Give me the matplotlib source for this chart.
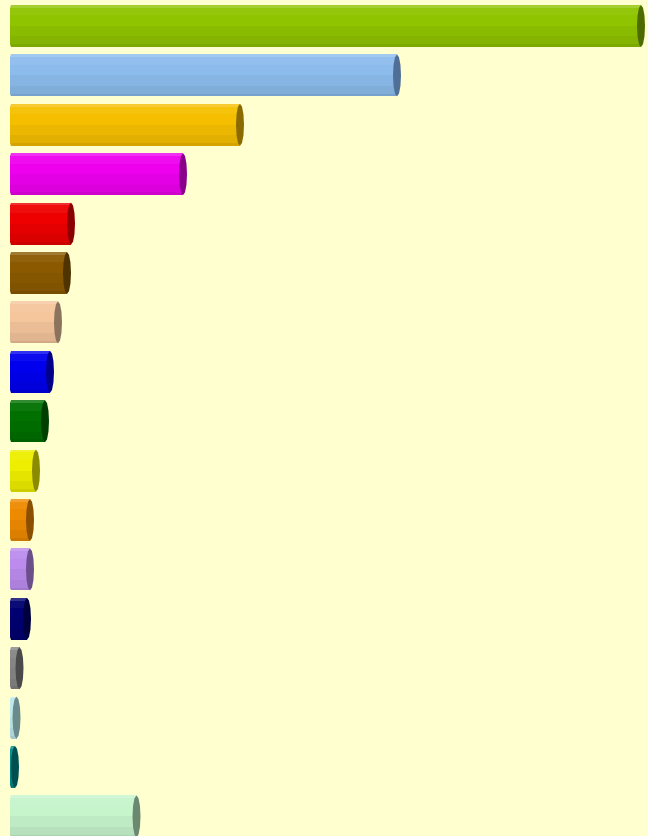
import numpy as np
import matplotlib
matplotlib.use("Agg")
from matplotlib import pyplot as plt
from matplotlib.patches import Polygon
from matplotlib.colors import to_rgb

# bar lengths (arbitrary units)
values = [630, 386, 229, 172, 60, 56, 47, 39, 34, 25, 19, 19, 16, 8.5, 5.5, 4, 125.5]
face_colors = ['#8fc400', '#8cbcec', '#f5bf00', '#ee00ee', '#ee0000', '#8b5a00',
               '#f5c59c', '#0000ee', '#007000', '#eeee00', '#ee8a00', '#bb8cee',
               '#000070', '#858585', '#bce8ec', '#008a88', '#c6f5cc']
cap_colors = ['#4e6a00', '#4f6f96', '#8a6b00', '#8b008b', '#8b0000', '#4f3300',
              '#8b735e', '#00008b', '#003f00', '#8b8b00', '#8b4f00', '#6b4f8b',
              '#00003f', '#4a4a4a', '#6b8b8b', '#005050', '#6b8870']

bg = '#ffffd0'
half_h = 0.425      # half bar height, in category units
cap_w = 4.0         # half width of the end cap, in value units
left_w = 1.5        # bulge of the hidden left end
angles = np.deg2rad(np.arange(90, -91, -30))   # facet edges, top to bottom
shade = [1.12, 1.03, 1.0, 0.96, 0.92, 0.86]


def tint(c, f):
    r = np.array(to_rgb(c))
    if f > 1:
        r = r + (1 - r) * (f - 1) * 1.6
    else:
        r = r * f
    return np.clip(r, 0, 1)


fig = plt.figure(figsize=(6.48, 8.36), dpi=100)
fig.patch.set_facecolor(bg)
ax = fig.add_axes([0, 0, 1, 1])
ax.set_facecolor(bg)

for i, (v, fc, cc) in enumerate(zip(values, face_colors, cap_colors)):
    x0, x1 = 0, v
    for k in range(len(angles) - 1):
        a, b = angles[k], angles[k + 1]
        ya, yb = i - half_h * np.sin(a), i - half_h * np.sin(b)
        pts = [(x0 - left_w * np.cos(a), ya), (x1, ya), (x1, yb), (x0 - left_w * np.cos(b), yb)]
        ax.add_patch(Polygon(pts, closed=True, facecolor=tint(fc, shade[k]), edgecolor='none'))
    phi = np.deg2rad(np.arange(0, 360, 30))
    cap = np.column_stack([x1 + cap_w * np.cos(phi), i - half_h * np.sin(phi)])
    ax.add_patch(Polygon(cap, closed=True, facecolor=cc, edgecolor='none'))

ax.set_xlim(-11, 637)
ax.set_ylim(16.397, -0.526)
ax.axis('off')

plt.savefig('out.png', dpi=100, facecolor=bg)
